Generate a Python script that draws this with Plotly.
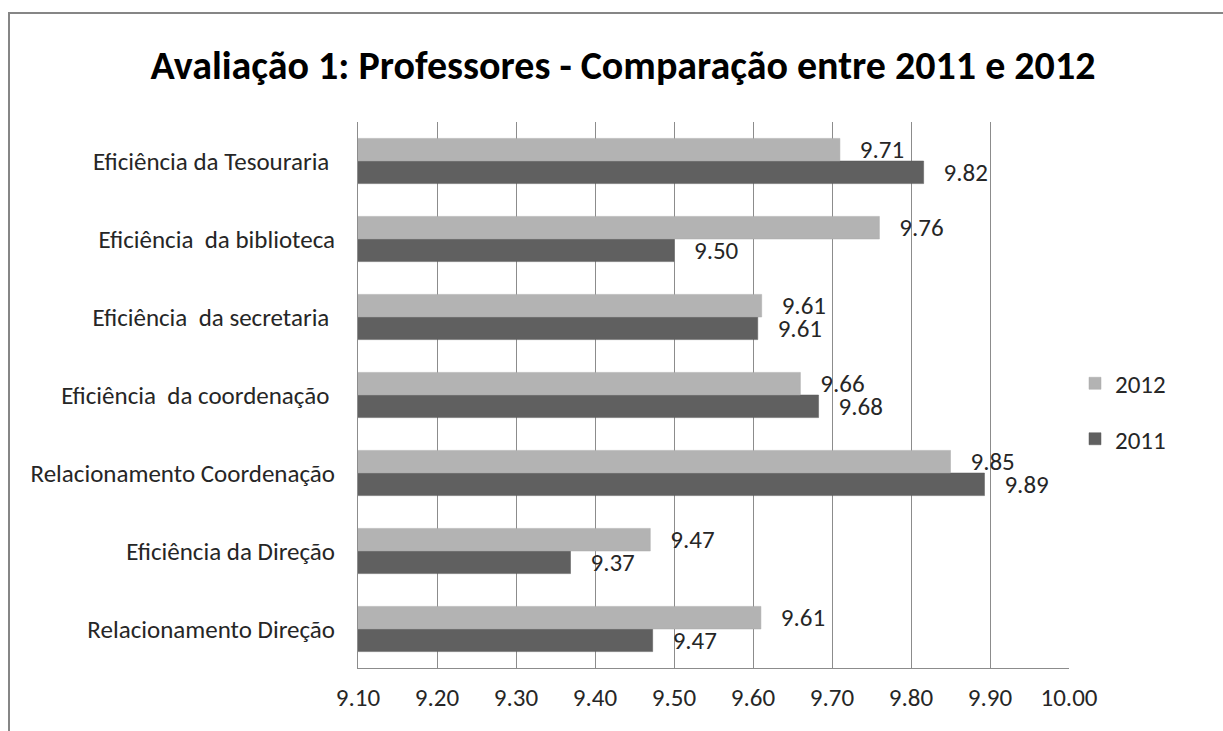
import plotly.graph_objects as go

categories = [
    "Relacionamento Direção",
    "Eficiência da Direção",
    "Relacionamento Coordenação",
    "Eficiência  da coordenação ",
    "Eficiência  da secretaria ",
    "Eficiência  da biblioteca",
    "Eficiência da Tesouraria ",
]
values_2011 = [9.473, 9.369, 9.893, 9.683, 9.606, 9.50, 9.816]
values_2012 = [9.61, 9.47, 9.85, 9.66, 9.611, 9.76, 9.71]
x_ticks = [9.10, 9.20, 9.30, 9.40, 9.50, 9.60, 9.70, 9.80, 9.90, 10.00]

FONT = "Carlito, Calibri, Lato, sans-serif"
FS = 25
W, H = 1223, 731
L, R, T, B = 358, 1069, 122, 668
pw, ph = R - L, B - T

fig = go.Figure()
fig.add_trace(go.Bar(
    y=categories, x=values_2011, orientation="h", name="2011",
    marker=dict(color="#606060", line=dict(color="#5a5a5a", width=0.5)),
    texttemplate="\u00a0\u00a0\u00a0%{x:.2f}", textposition="outside",
    textfont=dict(family=FONT, size=FS, color="#262626"),
    constraintext="none", cliponaxis=False, legendgroup="a", legendrank=2,
))
fig.add_trace(go.Bar(
    y=categories, x=values_2012, orientation="h", name="2012",
    marker=dict(color="#b3b3b3", line=dict(color="#aaaaaa", width=0.5)),
    texttemplate="\u00a0\u00a0\u00a0%{x:.2f}", textposition="outside",
    textfont=dict(family=FONT, size=FS, color="#262626"),
    constraintext="none", cliponaxis=False, legendgroup="b", legendrank=1,
))

fig.add_shape(
    type="rect", xref="paper", yref="paper",
    x0=(9 - L) / pw, x1=(1240 - L) / pw,
    y0=(B - 745) / ph, y1=(B - 13) / ph,
    line=dict(color="#868686", width=2), fillcolor="rgba(0,0,0,0)", layer="below",
)

fig.update_layout(
    width=W, height=H,
    margin=dict(l=L, r=W - R, t=T, b=H - B, autoexpand=False),
    paper_bgcolor="white", plot_bgcolor="white",
    barmode="group", bargap=0.42, bargroupgap=0,
    title=dict(
        text="<b>Avaliação 1: Professores - Comparação entre 2011 e 2012</b>",
        x=623 / W, xanchor="center", y=1 - 65 / H, yanchor="middle",
        xref="container", yref="container",
        font=dict(family=FONT, size=40, color="#000000"),
    ),
    xaxis=dict(
        range=[9.10, 10.00], tickvals=x_ticks, tickformat=".2f",
        showgrid=True, gridcolor="#8c8c8c", gridwidth=1,
        showline=True, linecolor="#8c8c8c", linewidth=1, mirror=False,
        zeroline=False, ticks="", ticklabelstandoff=7,
        tickfont=dict(family=FONT, size=FS, color="#262626"),
        fixedrange=True,
    ),
    yaxis=dict(
        showgrid=False, showline=True, linecolor="#8c8c8c", linewidth=1,
        ticks="", ticklabelstandoff=17,
        tickfont=dict(family=FONT, size=FS, color="#262626"),
        fixedrange=True,
    ),
    legend=dict(
        x=(1075 - L) / pw, y=(B - 411) / ph, xanchor="left", yanchor="middle",
        traceorder="grouped", tracegroupgap=20,
        font=dict(family=FONT, size=FS, color="#262626"),
        bgcolor="rgba(0,0,0,0)",
    ),
    showlegend=True,
)

fig.write_html(
    "out.html",
    config={"displayModeBar": False},
    post_script="document.body.style.margin='0';",
)
